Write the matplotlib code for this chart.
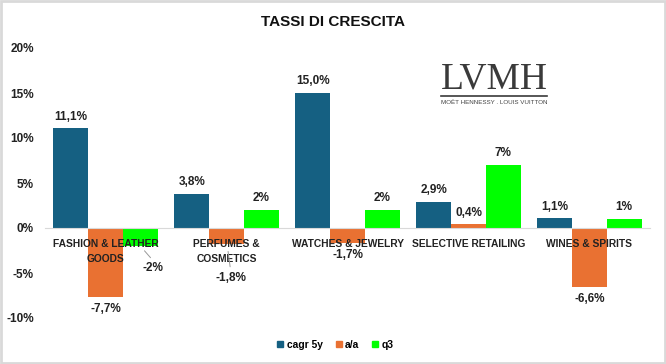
import matplotlib
matplotlib.use("Agg")
import matplotlib.pyplot as plt
import numpy as np
from matplotlib.patches import Rectangle
from matplotlib.lines import Line2D

categories = ["FASHION & LEATHER\nGOODS", "PERFUMES &\nCOSMETICS", "WATCHES & JEWELRY",
              "SELECTIVE RETAILING", "WINES & SPIRITS"]
cagr_5y = [11.1, 3.8, 15.0, 2.9, 1.1]
a_a = [-7.7, -1.8, -1.7, 0.4, -6.6]
q3 = [-2, 2, 2, 7, 1]
cagr_labels = ["11,1%", "3,8%", "15,0%", "2,9%", "1,1%"]
aa_labels = ["-7,7%", "-1,8%", "-1,7%", "0,4%", "-6,6%"]
q3_labels = ["-2%", "2%", "2%", "7%", "1%"]
yticks = [-10, -5, 0, 5, 10, 15, 20]

BLUE = "#156082"
ORANGE = "#E97132"
GREEN = "#00FF00"
FONT = "Liberation Sans"
FS = 8.5
TXT = "#222222"

fig = plt.figure(figsize=(6.66, 3.64), dpi=100)
ax = fig.add_axes([45/666, 1-318/364, 605/666, 270/364])
for s in ["top", "right", "left"]:
    ax.spines[s].set_visible(False)
ax.spines["bottom"].set_position(("data", 0))
ax.spines["bottom"].set_color("#D9D9D9")
ax.set_axisbelow(False)

x = np.arange(len(categories))
w = 0.287
series = [(cagr_5y, cagr_labels, BLUE, "cagr 5y"), (a_a, aa_labels, ORANGE, "a/a"), (q3, q3_labels, GREEN, "q3")]
lab_kw = dict(fontsize=FS, fontweight="bold", family=FONT, color=TXT, zorder=5)
for i, (vals, labs, col, name) in enumerate(series):
    xs = x + (i - 1) * w
    ax.bar(xs, vals, width=w, color=col, zorder=1, label=name)
    for j, (xv, v, lab) in enumerate(zip(xs, vals, labs)):
        if name == "q3" and j == 0:
            ax.annotate(lab, (xv, v), xytext=(9, -16), textcoords="offset points",
                        ha="center", va="center", **lab_kw)
            ax.annotate("", (xv + 0.02, v - 0.3), xytext=(7, -8), textcoords="offset points",
                        arrowprops=dict(arrowstyle="-", color="#999999", lw=0.7))
        elif name == "a/a" and j == 1:
            ax.annotate(lab, (xv, v), xytext=(3, -24), textcoords="offset points",
                        ha="center", va="center", **lab_kw)
            ax.annotate("", (xv + 0.01, v - 0.5), xytext=(2, -15), textcoords="offset points",
                        arrowprops=dict(arrowstyle="-", color="#999999", lw=0.7))
        elif v >= 0:
            ax.annotate(lab, (xv, v), xytext=(0, 4), textcoords="offset points",
                        ha="center", va="bottom", **lab_kw)
        else:
            ax.annotate(lab, (xv, v), xytext=(0, -4), textcoords="offset points",
                        ha="center", va="top", **lab_kw)

ax.set_xlim(-0.5, 4.5)
ax.set_ylim(-10, 20)
ax.set_yticks(yticks)
ax.set_yticklabels([f"{t}%" for t in yticks], fontsize=FS, fontweight="bold", family=FONT, color=TXT)
ax.set_xticks(x)
ax.set_xticklabels(categories, fontsize=7.4, fontweight="bold", family=FONT, color=TXT, linespacing=1.55)
ax.tick_params(axis="both", length=0)
ax.tick_params(axis="x", pad=8)
ax.tick_params(axis="y", pad=8)

fig.text(0.5, 1-22/364, "TASSI DI CRESCITA", ha="center", va="center", fontsize=11,
         fontweight="bold", family=FONT, color="#111111")

# LVMH logo as text
fig.text(494/666, 1-79/364, "LVMH", ha="center", va="center", fontsize=27,
         family="Liberation Serif", color="#3a3a3a")
fig.add_artist(Line2D([441/666, 547/666], [1-95.5/364, 1-95.5/364], color="#3a3a3a", lw=1.2))
fig.text(494/666, 1-102/364, "MOËT HENNESSY . LOUIS VUITTON", ha="center", va="center",
         fontsize=4.5, family=FONT, color="#444444")

handles = [Line2D([], [], marker="s", ls="", color=c, markersize=4.5) for c in (BLUE, ORANGE, GREEN)]
leg = fig.legend(handles, ["cagr 5y", "a/a", "q3"], loc="center", bbox_to_anchor=(335/666, 1-345/364),
                 ncol=3, frameon=False, handletextpad=0.25, columnspacing=1.1, handlelength=0.8,
                 prop=dict(family=FONT, weight="bold", size=7.4))

fig.add_artist(Rectangle((0.0015, 0.003), 0.997, 0.994, transform=fig.transFigure,
                         fill=False, edgecolor="#D9D9D9", lw=2))

fig.savefig("out.png", dpi=100)
